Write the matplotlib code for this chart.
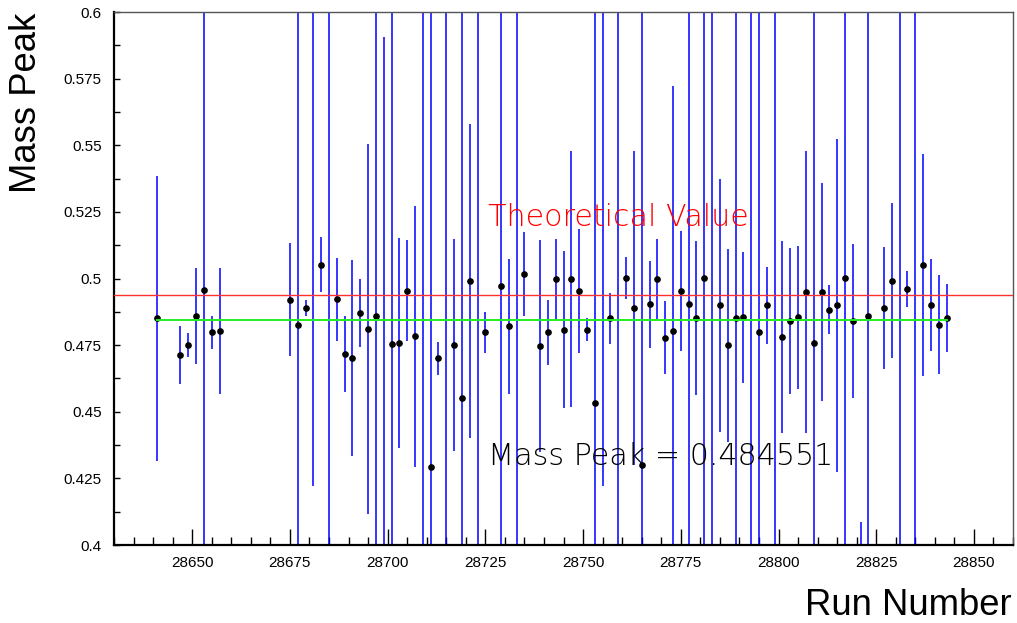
import numpy as np
import matplotlib
matplotlib.use("Agg")
import matplotlib.pyplot as plt
from matplotlib.ticker import MultipleLocator, FuncFormatter

# Valeurs (run, pic de masse, erreur)
runs = [28641, 28647, 28649, 28651, 28653, 28655, 28657,
        28675, 28677, 28679, 28681, 28683, 28685, 28687, 28689, 28691, 28693,
        28695, 28697, 28699, 28701, 28703, 28705, 28707, 28709, 28711, 28713,
        28715, 28717, 28719, 28721, 28723, 28725, 28729, 28731, 28733, 28735,
        28739, 28741, 28743, 28745, 28747, 28749, 28751, 28753, 28755, 28757,
        28759, 28761, 28763, 28765, 28767, 28769, 28771, 28773, 28775, 28777,
        28779, 28781, 28783, 28785, 28787, 28789, 28791, 28793, 28795, 28797,
        28799, 28801, 28803, 28805, 28807, 28809, 28811, 28813, 28815, 28817,
        28819, 28821, 28823, 28827, 28829, 28831, 28833, 28835, 28837, 28839,
        28841, 28843]

mass = [0.4851, 0.4714, 0.4752, 0.4860, 0.4957, 0.4799, 0.4803,
        0.4921, 0.4826, 0.4889, 0.65, 0.5051, 0.70, 0.4922, 0.4716, 0.4701, 0.4871,
        0.4810, 0.4858, 0.36, 0.4753, 0.4758, 0.4955, 0.4783, 0.70, 0.4291, 0.4701,
        0.70, 0.4750, 0.4551, 0.4990, 0.70, 0.4798, 0.4973, 0.4821, 0.70, 0.5017,
        0.4748, 0.4798, 0.4999, 0.4808, 0.4999, 0.4953, 0.4807, 0.4532, 0.65, 0.4851,
        0.70, 0.5002, 0.4890, 0.4299, 0.4903, 0.4997, 0.4778, 0.4803, 0.4952, 0.4905,
        0.4851, 0.5002, 0.70, 0.4899, 0.4750, 0.4853, 0.4854, 0.70, 0.4798, 0.4899,
        0.70, 0.4780, 0.4841, 0.4854, 0.4950, 0.4759, 0.4950, 0.4882, 0.4899, 0.5002,
        0.4839, 0.37, 0.4860, 0.4890, 0.4992, 0.70, 0.4962, 0.70, 0.5051, 0.4901,
        0.4826, 0.4851]

err = [0.0535, 0.0108, 0.0045, 0.0180, 0.5, 0.0062, 0.0236,
       0.0213, 0.5, 0.0030, 0.228, 0.0103, 0.5, 0.0155, 0.0142, 0.0367, 0.0128,
       0.0695, 0.5, 0.2307, 0.5, 0.0395, 0.0191, 0.0490, 0.5, 0.5, 0.0062,
       0.5, 0.0397, 0.5, 0.0590, 0.5, 0.0076, 0.5, 0.0253, 0.5, 0.0157,
       0.0398, 0.0121, 0.0150, 0.0295, 0.0480, 0.0233, 0.0043, 0.5, 0.228, 0.0095,
       0.5, 0.0078, 0.0588, 0.5, 0.0163, 0.0150, 0.0136, 0.0920, 0.0225, 0.5,
       0.0288, 0.5, 0.5, 0.0475, 0.0362, 0.5, 0.0246, 0.5, 0.5, 0.0146,
       0.5, 0.0360, 0.0273, 0.0268, 0.0530, 0.5, 0.0410, 0.0092, 0.0625, 0.5,
       0.0289, 0.0385, 0.5, 0.0229, 0.0290, 0.5, 0.0068, 0.5, 0.0418, 0.0173,
       0.0186, 0.0128]

theo_value = 0.493677
fit_value = 0.484551

fig = plt.figure(figsize=(10.17, 6.23), dpi=100)
ax = fig.add_axes([0.1121, 0.1252, 0.8840, 0.8555])

ax.errorbar(runs, mass, yerr=err, fmt='none', ecolor='blue', elinewidth=1.1, capsize=0, zorder=2)
ax.plot(runs, mass, 'o', color='black', markersize=3.8, zorder=3)

# Valeur théorique et ajustement
ax.axhline(theo_value, color='#ff3030', linewidth=1.0, zorder=4)
ax.plot([runs[0], runs[-1]], [fit_value, fit_value], color='#22ee22', linewidth=1.4, zorder=4)

ax.set_xlim(28630, 28860)
ax.set_ylim(0.4, 0.6)

txt_font = ['DejaVu Sans']
ax.text(28725.6, 0.5198, 'Theoretical Value', color='red', fontsize=21.7,
        family=txt_font, fontweight=200, ha='left', va='baseline')
ax.text(28725.6, 0.4299, 'Mass Peak = %g' % fit_value, color='black', fontsize=21.7,
        family=txt_font, fontweight=200, ha='left', va='baseline')

# Axes dans le style ROOT
ax.xaxis.set_major_locator(MultipleLocator(25))
ax.xaxis.set_minor_locator(MultipleLocator(5))
ax.yaxis.set_major_locator(MultipleLocator(0.025))
ax.yaxis.set_minor_locator(MultipleLocator(0.0125))
ax.xaxis.set_major_formatter(FuncFormatter(lambda v, p: '%d' % v))
ax.yaxis.set_major_formatter(FuncFormatter(lambda v, p: '%g' % round(v, 4)))

lab_font = ['Liberation Sans', 'DejaVu Sans']
for lab in ax.get_xticklabels() + ax.get_yticklabels():
    lab.set_family(lab_font)
ax.tick_params(axis='x', which='major', direction='in', length=11.5, width=1.0, pad=8, labelsize=11)
ax.tick_params(axis='x', which='minor', direction='in', length=5.8, width=1.0)
ax.tick_params(axis='y', which='major', direction='in', length=4.5, width=1.0, pad=9, labelsize=11)
ax.tick_params(axis='y', which='minor', direction='in', length=4.0, width=1.0)
ax.tick_params(top=False, right=False)

for side in ['left', 'bottom']:
    ax.spines[side].set_linewidth(1.6)
    ax.spines[side].set_color('black')
for side in ['top', 'right']:
    ax.spines[side].set_linewidth(1.0)
    ax.spines[side].set_color('#555555')

fig.text(26.7 / 1017, 1 - 13 / 623, 'Mass Peak', rotation=90, ha='center', va='top',
         fontsize=26.3, family=lab_font)
fig.text(1012 / 1017, 8 / 623, 'Run Number', ha='right', va='baseline',
         fontsize=26.3, family=lab_font)

fig.savefig('out.png', dpi=100)
